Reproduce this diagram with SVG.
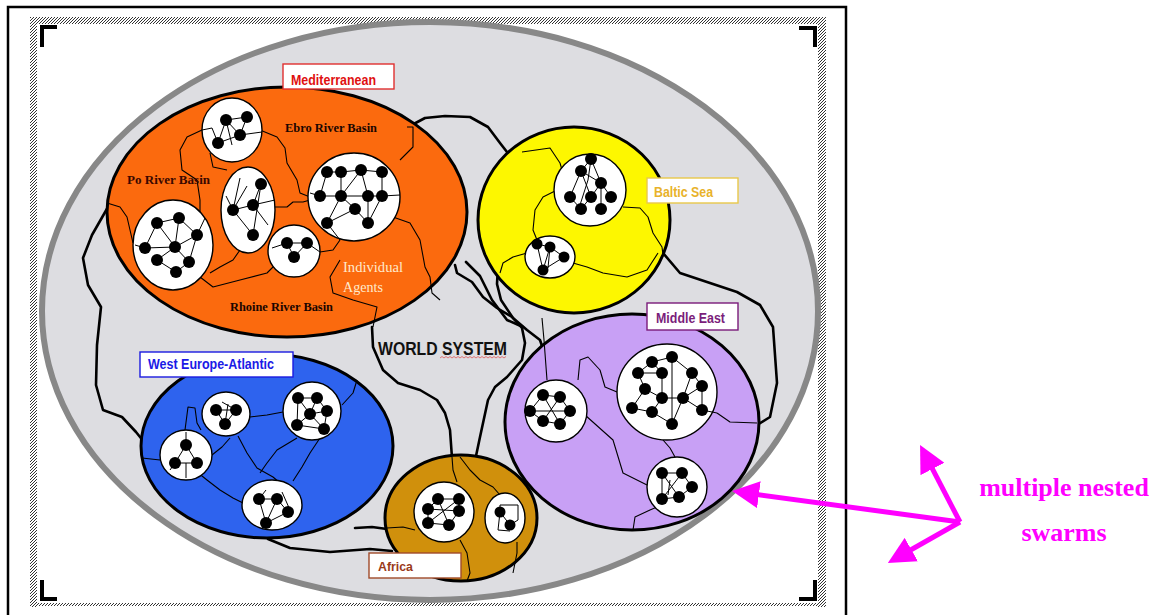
<svg xmlns="http://www.w3.org/2000/svg" width="1155" height="615" viewBox="0 0 1155 615">
<defs>
<pattern id="hatch" patternUnits="userSpaceOnUse" width="3" height="3">
<path d="M-0.5,3.5 L3.5,-0.5" stroke="#333" stroke-width="1"/>
</pattern>
<marker id="mhead" markerUnits="userSpaceOnUse" markerWidth="27" markerHeight="27" refX="13" refY="13.5" orient="auto">
<path d="M0,0 L27,13.5 L0,27 z" fill="#ff00ff"/>
</marker>
<style>
.dot{fill:#000}
.net{stroke:#000;stroke-width:1;fill:none}
.sub{fill:#fff;stroke:#000;stroke-width:1.4}
.bnd{stroke:#000;stroke-width:1.1;fill:none;stroke-linejoin:round}
.conn{stroke:#000;stroke-width:2.6;fill:none;stroke-linejoin:round;stroke-linecap:round}
.region{stroke:#000;stroke-width:3}
.lbox{fill:#fff;stroke-width:1.4}
.ltxt{font-family:"Liberation Sans",Arial,sans-serif;font-weight:bold}
.stxt{font-family:"Liberation Serif","Times New Roman",serif;font-weight:bold;font-size:13px}
.mag{stroke:#ff00ff;stroke-width:5;fill:none}
.magtxt{font-family:"Liberation Serif","Times New Roman",serif;font-weight:bold;font-size:26px;fill:#ff00ff}
</style>
</defs>
<rect x="0" y="0" width="1155" height="615" fill="#fff"/>
<g id="frame">
<rect x="8" y="7" width="838" height="630" fill="none" stroke="#000" stroke-width="2.5"/>
<rect x="30" y="17" width="796" height="7" fill="url(#hatch)"/>
<rect x="30" y="17" width="7" height="590" fill="url(#hatch)"/>
<rect x="818" y="17" width="8" height="590" fill="url(#hatch)"/>
<rect x="30" y="603" width="796" height="3" fill="url(#hatch)"/>
<path d="M42,47 V27 H57 M799,28 H815 V47 M42,580 V599 H57 M799,599 H815 V580 M420,27 H437 M420,599 H437 M42,302 V324 M815,302 V324" stroke="#000" stroke-width="4" fill="none"/>
</g>
<g id="world">
<ellipse cx="430" cy="311" rx="388" ry="289" fill="#dddde1" stroke="#888" stroke-width="6"/>
</g>
<g id="connectors">
<path class="conn" d="M408,127 L425,118 L445,116 L470,117 L488,127 L500,143 L507,152"/>
<path class="conn" d="M108,207 L92,235 L83,258 L88,285 L101,307 L97,345 L96,385 L103,410 L122,417 L136,432 L144,442"/>
<path class="conn" d="M372,327 L373,347 L383,370 L398,383 L420,390 L437,400 L445,413 L450,430 L452,458"/>
<path class="conn" d="M455,265 L457,273 L472,282 L483,297 L497,308 L512,317 L522,328 L525,343 L522,360 L507,377 L495,387 L488,400 L480,437 L476,456"/>
<path class="conn" d="M498,266 L497,284 L501,300 L513,318 L527,330 L540,340 L544,352"/>
<path class="conn" d="M466,262 L480,276 L492,300 L507,320 L523,327"/>
<path class="conn" d="M663,253 L680,273 L710,283 L737,292 L760,305 L773,327 L777,383 L770,417 L757,425"/>
<path class="conn" d="M268,539 L290,548 L330,552 L370,549 L392,551"/>
<path class="conn" d="M355,528 L372,527 L387,529"/>
</g>
<g id="mediterranean">
<ellipse class="region" cx="287" cy="212" rx="180" ry="125" fill="#fb6a0e"/>
<path class="bnd" d="M202,130 L187,137 L180,150 L182,170 L197,180 L200,200 L200,220"/>
<path class="bnd" d="M210,153 L213,167 L227,170"/>
<path class="bnd" d="M260,130 L277,137 L285,148 L287,163 L297,180 L300,193 L310,197"/>
<path class="bnd" d="M273,207 L287,207 L293,202 L303,202 L310,200"/>
<path class="bnd" d="M340,240 L333,250 L320,252"/>
<path class="bnd" d="M400,160 L413,147 L413,127 L407,127"/>
<path class="bnd" d="M393,217 L410,223 L420,240 L425,267 L430,277 L432,293 L440,300"/>
<path class="bnd" d="M277,263 L267,273 L240,280 L213,287 L200,277"/>
<path class="bnd" d="M107,203 L120,207 L127,217 L133,243"/>
<path class="bnd" d="M340,260 L330,277 L333,293 L353,300 L377,307 L373,327"/>
<path class="bnd" d="M240,250 L233,260 L220,267 L210,273"/>
<ellipse class="sub" cx="232" cy="130" rx="30" ry="32"/>
<ellipse class="sub" cx="248" cy="210" rx="27" ry="43"/>
<ellipse class="sub" cx="354" cy="197" rx="46" ry="44"/>
<ellipse class="sub" cx="173" cy="245" rx="40" ry="45"/>
<ellipse class="sub" cx="294" cy="251" rx="26" ry="26"/>
<path class="net" d="M226,120 L247,117 L240,135 L226,120 L218,143 L240,135 M218,143 L212,128 L202,130 M240,135 L262,132 M226,120 L232,145"/>
<path class="net" d="M261,184 L253,205 L233,210 L253,235 L261,184 M233,210 L240,178 M233,210 L226,196 M253,205 L275,200 M233,210 L247,186 M253,205 L268,225"/>
<path class="net" d="M327,172 L341,172 L361,170 L382,172 M327,172 L320,196 L341,196 L368,196 L382,196 L382,172 M341,172 L341,196 M361,170 L341,196 M341,196 L355,209 L368,223 M341,196 L327,223 L355,209 M368,196 L368,223 M382,196 L368,223 M382,196 L400,195 M320,196 L310,193 M361,170 L368,196 M327,223 L340,240"/>
<path class="net" d="M157,223 L179,218 L175,247 L157,223 M197,235 L175,247 L145,248 L157,223 M175,247 L157,260 L176,272 L189,262 L175,247 M179,218 L197,235 M197,235 L189,262 M145,248 L135,245 M197,235 L205,218"/>
<path class="net" d="M287,243 L307,243 L294,257 L287,243 M307,243 L320,252 M287,243 L272,248"/>
<g class="dot">
<circle cx="226" cy="120" r="6"/><circle cx="247" cy="117" r="6"/><circle cx="240" cy="135" r="6"/><circle cx="218" cy="143" r="6"/>
<circle cx="261" cy="184" r="6"/><circle cx="253" cy="205" r="6"/><circle cx="233" cy="210" r="6"/><circle cx="253" cy="235" r="6"/>
<circle cx="327" cy="172" r="6"/><circle cx="341" cy="172" r="6"/><circle cx="361" cy="170" r="6"/><circle cx="382" cy="172" r="6"/><circle cx="320" cy="196" r="6"/><circle cx="341" cy="196" r="6"/><circle cx="368" cy="196" r="6"/><circle cx="382" cy="196" r="6"/><circle cx="355" cy="209" r="6"/><circle cx="327" cy="223" r="6"/><circle cx="368" cy="223" r="6"/>
<circle cx="157" cy="223" r="6"/><circle cx="179" cy="218" r="6"/><circle cx="197" cy="235" r="6"/><circle cx="145" cy="248" r="6"/><circle cx="175" cy="247" r="6"/><circle cx="157" cy="260" r="6"/><circle cx="189" cy="262" r="6"/><circle cx="176" cy="272" r="6"/>
<circle cx="287" cy="243" r="6"/><circle cx="307" cy="243" r="6"/><circle cx="294" cy="257" r="6"/>
</g>
<text class="stxt" x="285" y="132" textLength="92" lengthAdjust="spacingAndGlyphs" fill="#1a0500">Ebro River Basin</text>
<text class="stxt" x="127" y="184" textLength="83" lengthAdjust="spacingAndGlyphs" fill="#3a0800">Po River Basin</text>
<text class="stxt" x="230" y="311" textLength="103" lengthAdjust="spacingAndGlyphs" fill="#1a0500">Rhoine River Basin</text>
<text x="343" y="272" font-family="Liberation Serif,Times New Roman,serif" font-size="15" fill="#ffe9cc" textLength="60" lengthAdjust="spacingAndGlyphs">Individual</text>
<text x="343" y="292" font-family="Liberation Serif,Times New Roman,serif" font-size="15" fill="#ffe9cc" textLength="40" lengthAdjust="spacingAndGlyphs">Agents</text>
<rect class="lbox" x="283" y="64" width="111" height="25" stroke="#e03030"/>
<text class="ltxt" x="291" y="85" font-size="15" fill="#e01010" textLength="85" lengthAdjust="spacingAndGlyphs">Mediterranean</text>
</g>
<g id="baltic">
<ellipse class="region" cx="574" cy="220" rx="96" ry="93" fill="#fdf700"/>
<path class="bnd" d="M522,152 L550,148 L560,163 L562,170"/>
<path class="bnd" d="M557,190 L543,197 L535,210 L533,230 L537,240"/>
<path class="bnd" d="M623,207 L640,208 L648,217 L653,233 L662,247 L663,255"/>
<path class="bnd" d="M573,263 L587,267 L603,273 L627,277 L647,270 L658,253"/>
<path class="bnd" d="M527,253 L513,257 L503,263 L500,273"/>
<circle class="sub" cx="590" cy="190" r="36"/>
<ellipse class="sub" cx="550" cy="257" rx="25" ry="21"/>
<path class="net" d="M591,159 L581,171 L570,197 M591,159 L601,183 L591,197 L581,209 M581,171 L591,197 M601,183 L611,197 M601,183 L601,209 M581,171 L601,183 M570,197 L581,209 M591,159 L588,180 L580,205"/>
<path class="net" d="M537,244 L550,247 L564,257 L543,270 L537,244 M550,247 L543,270 M550,247 L548,268"/>
<g class="dot">
<circle cx="591" cy="159" r="6"/><circle cx="581" cy="171" r="6"/><circle cx="601" cy="183" r="6"/><circle cx="570" cy="197" r="6"/><circle cx="591" cy="197" r="6"/><circle cx="611" cy="197" r="6"/><circle cx="581" cy="209" r="6"/><circle cx="601" cy="209" r="6"/>
<circle cx="537" cy="244" r="5.5"/><circle cx="550" cy="247" r="5.5"/><circle cx="564" cy="257" r="5.5"/><circle cx="543" cy="270" r="5.5"/>
</g>
<rect class="lbox" x="647" y="178" width="91" height="25" stroke="#e8c84a"/>
<text class="ltxt" x="654" y="197" font-size="14" fill="#e8b22a" textLength="59" lengthAdjust="spacingAndGlyphs">Baltic Sea</text>
</g>
<g id="middle-east">
<ellipse class="region" cx="632" cy="422" rx="127" ry="108" fill="#c8a0f5"/>
<path class="bnd" d="M542,318 L544,340 L547,380"/>
<path class="bnd" d="M578,380 L580,360 L588,357 L600,370 L605,387 L617,392"/>
<path class="bnd" d="M585,415 L613,440 L623,473 L647,485"/>
<path class="bnd" d="M663,440 L670,448 L675,457"/>
<path class="bnd" d="M717,413 L730,422 L757,423"/>
<path class="bnd" d="M633,530 L635,517 L650,510 L657,507"/>
<ellipse class="sub" cx="667" cy="392" rx="50" ry="48"/>
<circle class="sub" cx="556" cy="411" r="31"/>
<circle class="sub" cx="677" cy="487" r="30"/>
<path class="net" d="M652,362 L672,357 L692,373 L702,386 L702,410 M652,362 L638,373 L645,389 L632,408 L652,412 L672,424 L683,398 L702,386 M652,362 L662,373 L662,398 L652,412 M645,389 L662,398 L683,398 M683,398 L702,410 M672,357 L672,424 M692,373 L683,398 M638,373 L662,373 M702,410 L717,413"/>
<path class="net" d="M543,395 L560,397 L570,411 L560,424 L543,421 L530,411 L543,395 M543,395 L560,424 M560,397 L543,421 M530,411 L570,411"/>
<path class="net" d="M662,473 L682,473 L692,487 L679,497 L662,499 L662,473 M662,473 L679,497 M682,473 L662,499 M670,480 L668,495"/>
<g class="dot">
<circle cx="652" cy="362" r="6"/><circle cx="672" cy="357" r="6"/><circle cx="638" cy="373" r="6"/><circle cx="662" cy="373" r="6"/><circle cx="692" cy="373" r="6"/><circle cx="702" cy="386" r="6"/><circle cx="645" cy="389" r="6"/><circle cx="662" cy="398" r="6"/><circle cx="683" cy="398" r="6"/><circle cx="632" cy="408" r="6"/><circle cx="652" cy="412" r="6"/><circle cx="702" cy="410" r="6"/><circle cx="672" cy="424" r="6"/>
<circle cx="543" cy="395" r="6"/><circle cx="560" cy="397" r="6"/><circle cx="530" cy="411" r="6"/><circle cx="570" cy="411" r="6"/><circle cx="543" cy="421" r="6"/><circle cx="560" cy="424" r="6"/>
<circle cx="662" cy="473" r="6"/><circle cx="682" cy="473" r="6"/><circle cx="692" cy="487" r="6"/><circle cx="662" cy="499" r="6"/><circle cx="679" cy="497" r="6"/>
</g>
<rect class="lbox" x="647" y="303" width="91" height="27" stroke="#7a1a7a"/>
<text class="ltxt" x="656" y="323" font-size="15" fill="#7b1e7b" textLength="69" lengthAdjust="spacingAndGlyphs">Middle East</text>
</g>
<g id="west-europe-atlantic">
<ellipse class="region" cx="267" cy="446" rx="126" ry="92" fill="#2e63ee"/>
<path class="bnd" d="M185,430 L188,407 L195,408 L197,423 L201,430"/>
<path class="bnd" d="M250,417 L267,415 L283,412"/>
<path class="bnd" d="M238,436 L247,453 L257,468 L273,477 L280,483"/>
<path class="bnd" d="M297,438 L277,450 L267,463 L260,473"/>
<path class="bnd" d="M320,438 L310,453 L302,467 L293,481"/>
<path class="bnd" d="M342,405 L353,393 L357,380"/>
<path class="bnd" d="M142,458 L160,460"/>
<path class="bnd" d="M197,472 L207,480 L220,490 L233,498 L243,503"/>
<path class="bnd" d="M212,455 L222,447 L230,438"/>
<ellipse class="sub" cx="226" cy="414" rx="24" ry="22"/>
<circle class="sub" cx="312" cy="411" r="29"/>
<ellipse class="sub" cx="186" cy="455" rx="26" ry="25"/>
<ellipse class="sub" cx="272" cy="505" rx="30" ry="25"/>
<path class="net" d="M216,410 L236,410 L225,424 L216,410 M225,424 L228,404 M236,410 L222,402"/>
<path class="net" d="M298,398 L317,398 L327,411 L310,414 L298,398 M310,414 L297,425 L324,429 L310,414 M317,398 L310,414 M327,411 L324,429 M298,398 L297,425"/>
<path class="net" d="M186,445 L175,463 L197,463 L186,445 M186,445 L186,432 M186,463 L186,478 M175,463 L170,470"/>
<path class="net" d="M259,499 L277,499 L288,512 L266,523 L259,499 M277,499 L266,523 M282,492 L290,510 M259,499 L266,490"/>
<g class="dot">
<circle cx="216" cy="410" r="6"/><circle cx="236" cy="410" r="6"/><circle cx="225" cy="424" r="6"/>
<circle cx="298" cy="398" r="6"/><circle cx="317" cy="398" r="6"/><circle cx="327" cy="411" r="6"/><circle cx="310" cy="414" r="6"/><circle cx="297" cy="425" r="6"/><circle cx="324" cy="429" r="6"/>
<circle cx="186" cy="445" r="6"/><circle cx="175" cy="463" r="6"/><circle cx="197" cy="463" r="6"/>
<circle cx="259" cy="499" r="6"/><circle cx="277" cy="499" r="6"/><circle cx="288" cy="512" r="6"/><circle cx="266" cy="523" r="6"/>
</g>
<rect class="lbox" x="140" y="352" width="153" height="25" stroke="#1a1ae0"/>
<text class="ltxt" x="148" y="369" font-size="14" fill="#1a1ae6" textLength="126" lengthAdjust="spacingAndGlyphs">West Europe-Atlantic</text>
</g>
<g id="africa">
<ellipse class="region" cx="461" cy="518" rx="76" ry="63" fill="#d0900c"/>
<path class="bnd" d="M452,457 L453,470 L457,482"/>
<path class="bnd" d="M460,457 L470,470 L480,480 L493,487 L500,495"/>
<path class="bnd" d="M387,528 L403,527 L415,530"/>
<path class="bnd" d="M460,540 L467,553 L470,573 L467,581"/>
<path class="bnd" d="M517,542 L517,553 L513,573"/>
<circle class="sub" cx="444" cy="512" r="30"/>
<ellipse class="sub" cx="505" cy="518" rx="20" ry="25"/>
<path class="net" d="M438,499 L459,499 L459,511 L449,525 L428,523 L428,509 L438,499 M438,499 L449,525 M459,499 L428,523 M428,509 L459,511"/>
<path class="net" d="M500,512 L510,525 M500,512 L500,505 L518,505 L518,520 L510,525 M500,512 L498,530 L510,531"/>
<g class="dot">
<circle cx="438" cy="499" r="6"/><circle cx="459" cy="499" r="6"/><circle cx="428" cy="509" r="6"/><circle cx="459" cy="511" r="6"/><circle cx="428" cy="523" r="6"/><circle cx="449" cy="525" r="6"/>
<circle cx="500" cy="512" r="5.5"/><circle cx="510" cy="525" r="5.5"/>
</g>
<rect class="lbox" x="369" y="553" width="92" height="25" stroke="#a04a2a"/>
<text class="ltxt" x="378" y="571" font-size="13" fill="#9a3a1a" textLength="35" lengthAdjust="spacingAndGlyphs">Africa</text>
</g>
<g id="world-system-label">
<text class="ltxt" x="378" y="355" font-size="18" fill="#111" textLength="129" lengthAdjust="spacingAndGlyphs">WORLD SYSTEM</text>
<path d="M440,358 l2,-1.5 l2,1.5 l2,-1.5 l2,1.5 l2,-1.5 l2,1.5 l2,-1.5 l2,1.5 l2,-1.5 l2,1.5 l2,-1.5 l2,1.5 l2,-1.5 l2,1.5 l2,-1.5 l2,1.5 l2,-1.5 l2,1.5 l2,-1.5 l2,1.5 l2,-1.5 l2,1.5 l2,-1.5 l2,1.5 l2,-1.5 l2,1.5 l2,-1.5 l2,1.5 l2,-1.5 l2,1.5 l2,-1.5 l2,1.5 l2,-1.5" fill="none" stroke="#e05a5a" stroke-width="0.8"/>
</g>
<g id="annotation">
<line class="mag" x1="960" y1="522" x2="746" y2="493" marker-end="url(#mhead)"/>
<line class="mag" x1="960" y1="522" x2="926.5" y2="457.4" marker-end="url(#mhead)"/>
<line class="mag" x1="960" y1="522" x2="900" y2="556" marker-end="url(#mhead)"/>
<text class="magtxt" x="1064" y="496" text-anchor="middle">multiple nested</text>
<text class="magtxt" x="1064" y="541" text-anchor="middle">swarms</text>
</g>
</svg>
